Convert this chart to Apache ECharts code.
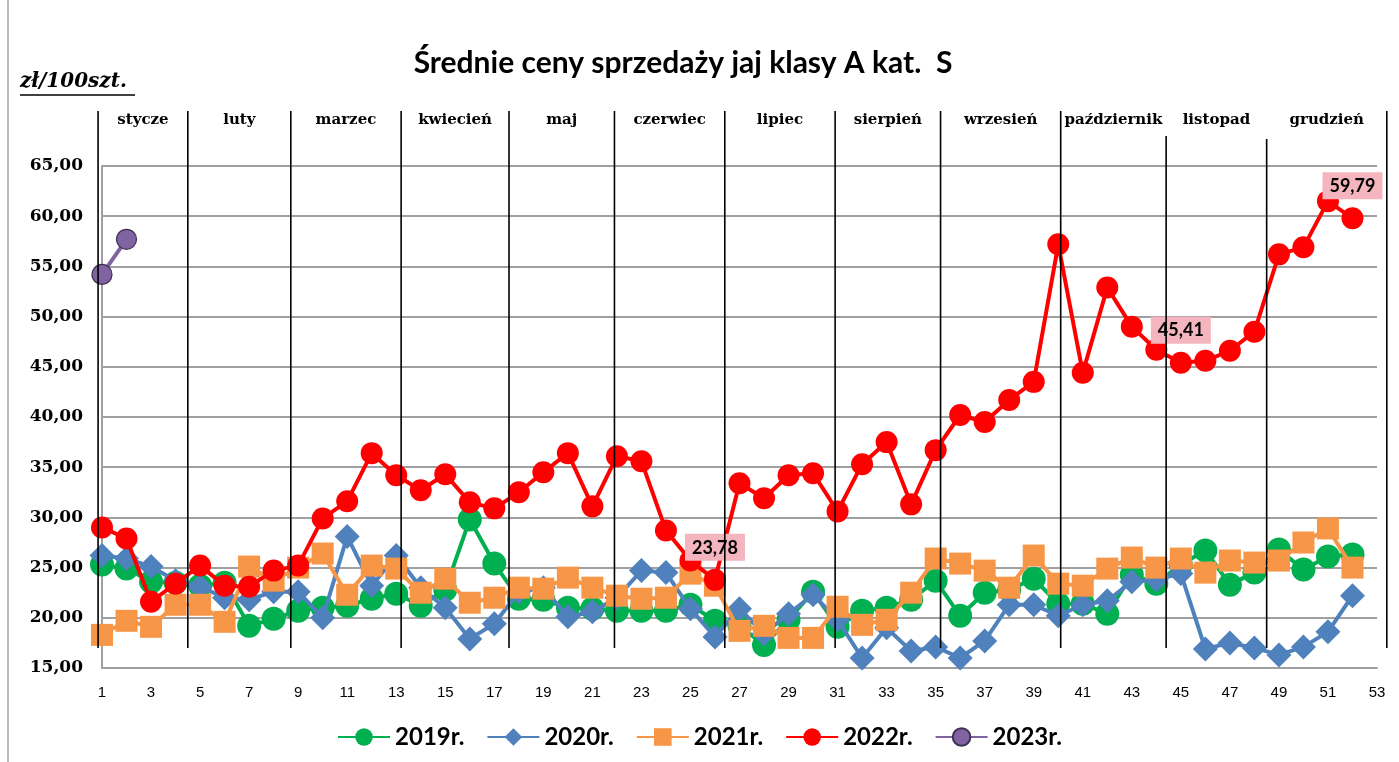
<!DOCTYPE html>
<html>
<head>
<meta charset="utf-8">
<script src="https://cdn.jsdelivr.net/npm/echarts@6/dist/echarts.min.js"></script>
<style>
  html, body { margin: 0; padding: 0; background: #fff; }
  #main { width: 1399px; height: 762px; }
</style>
</head>
<body>
<div id="main"></div>
<script>
// tygodnie 1..53
var weeks = [];
for (var i = 1; i <= 53; i++) weeks.push(String(i));

var yTicks = [15, 20, 25, 30, 35, 40, 45, 50, 55, 60, 65];

var s2019 = [25.3, 24.9, 23.6, 23.5, 23.2, 23.5, 19.2, 19.9, 20.7, 21.0, 21.2, 21.9, 22.4,
    21.2, 22.8, 29.8, 25.4, 21.9, 21.8, 21.0, 20.9, 20.7, 20.7, 20.7, 21.3, 19.7,
    19.2, 17.3, 19.8, 22.6, 19.1, 20.7, 21.0, 21.8, 23.7, 20.2, 22.5, 22.8, 23.9,
    21.4, 21.4, 20.4, 24.3, 23.4, 25.3, 26.7, 23.3, 24.5, 26.8, 24.8, 26.1, 26.3];
var s2020 = [26.2, 25.9, 25.1, 23.7, 23.1, 22.0, 21.8, 22.6, 22.6, 20.0, 28.1, 23.2, 26.2,
    23.0, 21.0, 17.9, 19.4, 22.6, 23.0, 20.1, 20.6, 22.0, 24.7, 24.5, 20.9, 18.1,
    20.9, 18.4, 20.4, 22.3, 19.8, 16.0, 19.0, 16.7, 17.1, 16.0, 17.7, 21.3, 21.3,
    20.2, 21.3, 21.7, 23.6, 23.8, 24.4, 16.9, 17.5, 17.0, 16.3, 17.1, 18.6, 22.2];
var s2021 = [18.3, 19.7, 19.1, 21.3, 21.3, 19.6, 25.1, 23.7, 25.0, 26.4, 22.3, 25.2, 24.9,
    22.5, 23.9, 21.5, 22.0, 23.0, 22.9, 24.0, 23.0, 22.2, 21.9, 22.0, 24.4, 23.2,
    18.7, 19.2, 18.0, 18.0, 21.1, 19.3, 19.8, 22.5, 25.9, 25.4, 24.7, 23.0, 26.2,
    23.4, 23.2, 24.9, 26.0, 25.0, 25.9, 24.5, 25.7, 25.5, 25.7, 27.5, 28.9, 25.0];
var s2022 = [29.0, 27.9, 21.6, 23.4, 25.2, 23.2, 23.1, 24.7, 25.2, 29.9, 31.6, 36.4, 34.2,
    32.7, 34.3, 31.5, 30.9, 32.5, 34.5, 36.4, 31.1, 36.1, 35.6, 28.7, 25.7, 23.78,
    33.4, 31.9, 34.2, 34.4, 30.6, 35.3, 37.5, 31.3, 36.7, 40.2, 39.5, 41.7, 43.5,
    57.2, 44.4, 52.9, 49.0, 46.7, 45.41, 45.6, 46.6, 48.5, 56.2, 56.9, 61.5, 59.79];
var s2023 = [54.2, 57.7];
var labeled2022 = [26, 45, 52];

var months = ['stycze', 'luty', 'marzec', 'kwiecień', 'maj', 'czerwiec', 'lipiec',
    'sierpień', 'wrzesień', 'październik', 'listopad', 'grudzień'];
// granice miesięcy w jednostkach tygodni
var monthBounds = [0.84, 4.5, 8.7, 13.2, 17.6, 21.9, 26.4, 30.9, 35.2, 40.1, 44.4, 48.5, 53.4];

function fmt(v) { return v.toFixed(2).replace('.', ','); }

var myChart = echarts.init(document.getElementById('main'));

var lbl2022 = s2022.map(function (v, i) {
    if (labeled2022.indexOf(i + 1) >= 0) return { value: v, label: { show: true } };
    return v;
});

function line(name, data, symbol, size, color, z) {
    return {
        name: name,
        type: 'line',
        data: data,
        symbol: symbol,
        symbolSize: size,
        showAllSymbol: true,
        z: z,
        lineStyle: { color: color, width: 4 },
        itemStyle: { color: color },
        emphasis: { disabled: true }
    };
}

var series = [
    line('2019r.', s2019, 'circle', 24, '#00b050', 2),
    line('2020r.', s2020, 'diamond', 25, '#4f81bd', 3),
    line('2021r.', s2021, 'rect', 22, '#f79646', 4),
    line('2022r.', lbl2022, 'circle', 22, '#ff0000', 5),
    line('2023r.', s2023, 'circle', 20, '#8064a2', 6)
];
series[3].label = {
    show: false,
    position: 'top',
    distance: 8,
    formatter: function (p) { return fmt(p.value); },
    backgroundColor: '#f5b5bf',
    color: '#000',
    fontFamily: 'Lato',
    fontWeight: 'bold',
    fontSize: 18,
    padding: [5, 7, 4, 7]
};
series[4].itemStyle = { color: '#8064a2', borderColor: '#3f3151', borderWidth: 1.2 };

var option = {
    animation: false,
    backgroundColor: '#fff',
    title: {
        text: 'Średnie ceny sprzedaży jaj klasy A kat.  S',
        left: 678,
        textAlign: 'center',
        top: 43,
        textStyle: { fontFamily: 'Lato', fontWeight: 'bold', fontSize: 30, color: '#000' }
    },
    legend: {
        data: ['2019r.', '2020r.', '2021r.', '2022r.', '2023r.'],
        left: 'center',
        top: 720,
        itemWidth: 52,
        itemHeight: 22,
        itemGap: 22,
        textStyle: { fontFamily: 'Lato', fontWeight: 'bold', fontSize: 24, color: '#000' }
    },
    grid: { left: 102, right: 22, top: 166, bottom: 94 },
    xAxis: {
        type: 'category',
        data: weeks,
        boundaryGap: false,
        axisLine: { lineStyle: { color: '#a0a0a0', width: 2 } },
        axisTick: { show: false },
        axisLabel: { interval: 1, margin: 17, color: '#000', fontFamily: 'Liberation Sans', fontSize: 15 },
        splitLine: { show: false }
    },
    yAxis: {
        type: 'value',
        min: yTicks[0],
        max: yTicks[yTicks.length - 1],
        interval: 5,
        axisLine: { show: true, lineStyle: { color: '#a0a0a0', width: 2 } },
        axisTick: { show: false },
        axisLabel: {
            margin: 19, color: '#000', fontFamily: 'DejaVu Serif', fontWeight: 'bold', fontSize: 17,
            formatter: function (v) { return fmt(v); }
        },
        splitLine: { lineStyle: { color: '#a0a0a0', width: 2 } }
    },
    series: series
};

myChart.setOption(option);

// linie miesięcy i nazwy - pozycje liczone ze skali osi X
var p0 = myChart.convertToPixel({ xAxisIndex: 0 }, 0);
var p1 = myChart.convertToPixel({ xAxisIndex: 0 }, 51);
function wx(w) { return p0 + (w - 1) * (p1 - p0) / 51; }

var graphics = [];
graphics.push({ type: 'line', shape: { x1: 8, y1: 0, x2: 8, y2: 762 }, style: { stroke: '#a6a6a6', lineWidth: 1.5 } });
for (var m = 0; m < monthBounds.length; m++) {
    var lineTop = m === 11 ? 139 : (m === 10 ? 136 : 111);
    graphics.push({
        type: 'line', z: 100,
        shape: { x1: wx(monthBounds[m]), y1: lineTop, x2: wx(monthBounds[m]), y2: 648 },
        style: { stroke: '#000', lineWidth: 1.6 }
    });
}
for (var k = 0; k < months.length; k++) {
    graphics.push({
        type: 'text', z: 100,
        x: wx((monthBounds[k] + monthBounds[k + 1]) / 2),
        y: 120,
        style: {
            text: months[k], fill: '#000',
            font: 'bold 15px "DejaVu Serif"',
            textAlign: 'center', textVerticalAlign: 'middle'
        }
    });
}
graphics.push({
    type: 'text', x: 20, y: 82,
    style: { text: 'zł/100szt.', fill: '#000', font: 'italic bold 20px "DejaVu Serif"', textVerticalAlign: 'middle' }
});
graphics.push({ type: 'line', shape: { x1: 20, y1: 95, x2: 135, y2: 95 }, style: { stroke: '#000', lineWidth: 1.5 } });

myChart.setOption({ graphic: graphics });
</script>
</body>
</html>
